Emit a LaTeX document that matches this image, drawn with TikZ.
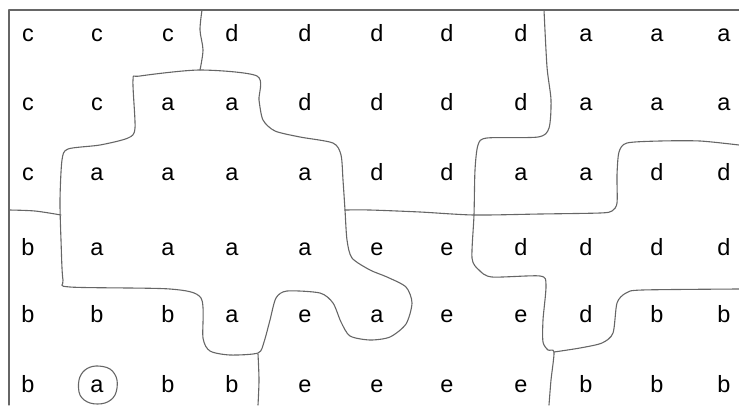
\documentclass[tikz,border=0pt]{standalone}
\usepackage{fontspec}
\setmainfont{Liberation Sans}
\begin{document}
\begin{tikzpicture}[x=1pt,y=-1pt,
  lett/.style={inner sep=0pt, anchor=base, font=\fontsize{23.5}{23.5}\selectfont},
  curve/.style={draw=black!60, line width=1.1pt, line join=round, line cap=round}]
\useasboundingbox (0,0) rectangle (739,405);
% frame
\draw[curve] (739,10) -- (9,10) -- (9,405);
% letters
\foreach \r/\y/\letters in {
  1/41/{c,c,c,d,d,d,d,d,a,a,a},
  2/110/{c,c,a,a,d,d,d,d,a,a,a},
  3/180/{c,a,a,a,a,d,d,a,a,d,d},
  4/255/{b,a,a,a,a,e,e,d,d,d,d},
  5/322/{b,b,b,a,e,a,e,e,d,b,b},
  6/392/{b,a,b,b,e,e,e,e,b,b,b}}{
  \foreach \l [count=\c] in \letters {
    \pgfmathsetmacro\xx{{28,97,168,232,305,377,447,521,586,657,724}[\c-1]}
    \node[lett] (L\r-\c) at (\xx,\y) {\l};
  }
}
% top-left vertical boundary
\draw[curve] plot[smooth, tension=0.5] coordinates {(202,10) (200,30) (203,50) (200,70)};
% big a-region
\draw[curve] plot[smooth cycle, tension=0.45] coordinates {
  (200,70) (257,76) (259,100) (263,120) (275,131) (300,137) (333,143) (341,155)
  (343,180) (345,210) (347,240) (352,258) (370,270) (387,277) (406,287) (412,303)
  (406,324) (390,337) (370,340) (350,336) (341,322) (333,303) (320,293) (287,291)
  (276,298) (270,320) (264,342) (258,353) (230,355) (210,351) (203,338) (201,298)
  (170,289) (70,287) (63,280) (61,240) (60,200) (62,160) (68,149) (100,145)
  (128,138) (135,128) (133,80) (140,76)};
% left horizontal
\draw[curve] plot[smooth, tension=0.5] coordinates {(9,210) (35,211) (61,215)};
% right horizontal and region
\draw[curve] plot[smooth, tension=0.45] coordinates {
  (345,210) (370,210) (420,212) (474,215) (540,214) (600,213) (612,211) (617,203)
  (617,175) (619,152) (627,143) (660,141) (700,141) (739,145)};
% right-middle vertical boundary
\draw[curve] plot[smooth, tension=0.45] coordinates {
  (544,10) (547,67) (551,100) (549,128) (538,137) (487,138) (478,145) (475,170)
  (474,215) (472,258) (479,270) (492,277) (540,276) (546,285) (543,320) (543,342)
  (548,350) (554,352) (551,380) (549,405)};
% bottom-right boundary
\draw[curve] plot[smooth, tension=0.45] coordinates {
  (554,352) (580,348) (602,343) (613,333) (617,303) (626,293) (642,290) (739,289)};
% bottom-middle line
\draw[curve] plot[smooth, tension=0.5] coordinates {(258,354) (259,380) (258,405)};
% small circle
\draw[curve] plot[smooth cycle, tension=0.6] coordinates {
  (96,366) (110,369) (117,380) (115,395) (105,403) (90,403) (80,395) (79,380) (85,370)};
\end{tikzpicture}
\end{document}
